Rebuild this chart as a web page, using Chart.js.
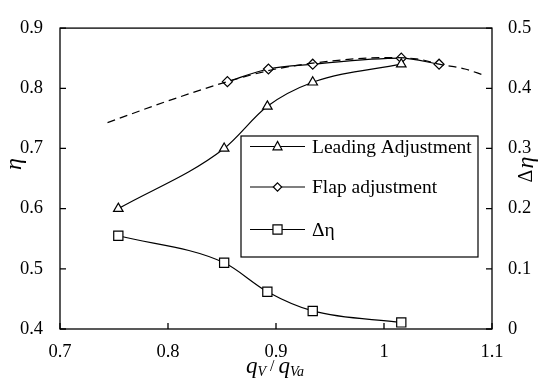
<!DOCTYPE html>
<html><head><meta charset="utf-8">
<script src="https://cdn.jsdelivr.net/npm/chart.js@4/dist/chart.umd.min.js"></script>
<style>html,body{margin:0;padding:0;background:#fff;overflow:hidden}#wrap{width:550px;height:388px}</style>
</head><body><div id="wrap"><canvas id="c" width="550" height="388"></canvas></div>
<script>
// ---- data ----
const xTicks = [0.7, 0.8, 0.9, 1.0, 1.1];
const etaTicks = [0.4, 0.5, 0.6, 0.7, 0.8, 0.9];
const deltaTicks = [0, 0.1, 0.2, 0.3, 0.4, 0.5];

const leadingX = [0.754, 0.852, 0.892, 0.934, 1.016];
const leadingEta = [0.600, 0.700, 0.770, 0.810, 0.840];

const flapX = [0.855, 0.893, 0.934, 1.016, 1.051];
const flapEta = [0.811, 0.832, 0.840, 0.850, 0.840];

const fitX = [0.744, 0.800, 0.855, 0.900, 0.950, 1.000, 1.030, 1.051, 1.075, 1.092];
const fitEta = [0.743, 0.779, 0.811, 0.832, 0.845, 0.851, 0.849, 0.840, 0.832, 0.822];

const deltaX = [0.754, 0.852, 0.892, 0.934, 1.016];
const deltaEta = [0.155, 0.110, 0.062, 0.030, 0.011];

const seriesNames = ['Leading Adjustment', 'Flap adjustment', 'Δη'];

// ---- helpers ----
const FONT = '"Liberation Serif", "Times New Roman", serif';
const pts = (xs, ys) => xs.map((x, i) => ({x: x, y: ys[i]}));

function marker(ctx, type, x, y, s) {
  ctx.beginPath();
  if (type === 'tri') {
    ctx.moveTo(x, y - s * 0.85); ctx.lineTo(x + s * 0.75, y + s * 0.55); ctx.lineTo(x - s * 0.75, y + s * 0.55); ctx.closePath();
  } else if (type === 'dia') {
    ctx.moveTo(x, y - s * 0.7); ctx.lineTo(x + s * 0.7, y); ctx.lineTo(x, y + s * 0.7); ctx.lineTo(x - s * 0.7, y); ctx.closePath();
  } else {
    ctx.rect(x - s * 0.7, y - s * 0.7, s * 1.4, s * 1.4);
  }
  ctx.fillStyle = '#fff'; ctx.fill(); ctx.stroke();
}

const deco = {
  id: 'deco',
  afterDatasetsDraw(chart) {
    const {ctx, chartArea: a, scales} = chart;
    ctx.save();
    ctx.strokeStyle = '#000'; ctx.fillStyle = '#000'; ctx.lineWidth = 1.3;
    ctx.strokeRect(a.left, a.top, a.right - a.left, a.bottom - a.top);
    const L = 6;
    ctx.beginPath();
    xTicks.forEach(v => { const p = scales.x.getPixelForValue(v); ctx.moveTo(p, a.bottom); ctx.lineTo(p, a.bottom - L); });
    etaTicks.forEach(v => { const p = scales.y.getPixelForValue(v); ctx.moveTo(a.left, p); ctx.lineTo(a.left + L, p); });
    deltaTicks.forEach(v => { const p = scales.y2.getPixelForValue(v); ctx.moveTo(a.right, p); ctx.lineTo(a.right - L, p); });
    ctx.stroke();

    // legend box
    const bx = 241, by = 136, bw = 237, bh = 121;
    ctx.fillStyle = '#fff'; ctx.fillRect(bx, by, bw, bh);
    ctx.lineWidth = 1.2; ctx.strokeRect(bx, by, bw, bh);
    const rows = [146.5, 187, 229.5], types = ['tri', 'dia', 'sq'], sizes = [6, 6, 6.5];
    rows.forEach((ry, i) => {
      ctx.lineWidth = 1.2; ctx.strokeStyle = '#000';
      ctx.beginPath(); ctx.moveTo(250, ry); ctx.lineTo(305, ry); ctx.stroke();
      marker(ctx, types[i], 277.5, ry, sizes[i]);
      ctx.fillStyle = '#000'; ctx.font = '19.5px ' + FONT; ctx.textAlign = 'left'; ctx.textBaseline = 'middle';
      ctx.fillText(seriesNames[i], 312, ry + 1);
    });

    // left title η
    ctx.save();
    ctx.translate(15, 164); ctx.rotate(-Math.PI / 2);
    ctx.font = 'italic 24px ' + FONT; ctx.textAlign = 'center'; ctx.textBaseline = 'middle';
    ctx.fillText('η', 0, 0);
    ctx.restore();

    // right title Δη
    ctx.save();
    ctx.translate(527, 170); ctx.rotate(-Math.PI / 2);
    ctx.textBaseline = 'middle'; ctx.textAlign = 'left';
    ctx.font = '20px ' + FONT; const wD = ctx.measureText('Δ').width;
    ctx.font = 'italic 24px ' + FONT; const wE = ctx.measureText('η').width;
    const sx = -(wD + wE) / 2;
    ctx.font = '20px ' + FONT; ctx.fillText('Δ', sx, 0);
    ctx.font = 'italic 24px ' + FONT; ctx.fillText('η', sx + wD + 1, 0);
    ctx.restore();

    // x title  q_V / q_Va
    const parts = [['q', 'italic 23px', 0], ['V', 'italic 14px', 2.5], [' / ', '16px', -2.5], ['q', 'italic 23px', 0], ['Va', 'italic 14px', 2.5]];
    let tw = 0;
    parts.forEach(p => { ctx.font = p[1] + ' ' + FONT; tw += ctx.measureText(p[0]).width; });
    let cx = 275 - tw / 2;
    ctx.textAlign = 'left'; ctx.textBaseline = 'alphabetic'; ctx.fillStyle = '#000';
    parts.forEach(p => { ctx.font = p[1] + ' ' + FONT; ctx.fillText(p[0], cx, 373 + p[2]); cx += ctx.measureText(p[0]).width; });
    ctx.restore();
  }
};

const tickFont = {family: FONT, size: 18.5};
const fmt = v => String(Math.round(v * 10) / 10);

new Chart(document.getElementById('c'), {
  type: 'scatter',
  data: {
    datasets: [
      {label: 'fit', data: pts(fitX, fitEta), yAxisID: 'y', showLine: true, borderColor: '#000', borderWidth: 1.2,
       borderDash: [8, 5], pointRadius: 0, cubicInterpolationMode: 'monotone', fill: false},
      {label: seriesNames[0], data: pts(leadingX, leadingEta), yAxisID: 'y', showLine: true, borderColor: '#000', borderWidth: 1.2,
       pointStyle: 'triangle', pointRadius: 5.5, pointBorderWidth: 1.2, pointBackgroundColor: '#fff', pointBorderColor: '#000',
       cubicInterpolationMode: 'monotone'},
      {label: seriesNames[1], data: pts(flapX, flapEta), yAxisID: 'y', showLine: true, borderColor: '#000', borderWidth: 1.2,
       pointStyle: 'rectRot', pointRadius: 5, pointBorderWidth: 1.2, pointBackgroundColor: '#fff', pointBorderColor: '#000',
       cubicInterpolationMode: 'monotone'},
      {label: seriesNames[2], data: pts(deltaX, deltaEta), yAxisID: 'y2', showLine: true, borderColor: '#000', borderWidth: 1.2,
       pointStyle: 'rect', pointRadius: 6.5, pointBorderWidth: 1.2, pointBackgroundColor: '#fff', pointBorderColor: '#000',
       cubicInterpolationMode: 'monotone'}
    ]
  },
  options: {
    responsive: false, animation: false, devicePixelRatio: 1,
    layout: {padding: {top: 10, left: 0, right: 0, bottom: 0}},
    plugins: {legend: {display: false}, tooltip: {enabled: false}},
    scales: {
      x: {type: 'linear', min: 0.7, max: 1.1,
          afterBuildTicks: s => { s.ticks = xTicks.map(v => ({value: v})); },
          afterFit: s => { s.height = 59; },
          grid: {display: false, drawTicks: false}, border: {display: false},
          ticks: {font: tickFont, color: '#000', padding: 12, maxRotation: 0, autoSkip: false, callback: v => fmt(v)}},
      y: {type: 'linear', position: 'left', min: 0.4, max: 0.9,
          afterBuildTicks: s => { s.ticks = etaTicks.map(v => ({value: v})); },
          afterFit: s => { s.width = 60; },
          grid: {display: false, drawTicks: false}, border: {display: false},
          ticks: {font: tickFont, color: '#000', padding: 17, callback: v => fmt(v)}},
      y2: {type: 'linear', position: 'right', min: 0, max: 0.5,
          afterBuildTicks: s => { s.ticks = deltaTicks.map(v => ({value: v})); },
          afterFit: s => { s.width = 58; },
          grid: {display: false, drawTicks: false}, border: {display: false},
          ticks: {font: tickFont, color: '#000', padding: 16, callback: v => fmt(v)}}
    }
  },
  plugins: [deco]
});
</script>
</body></html>
